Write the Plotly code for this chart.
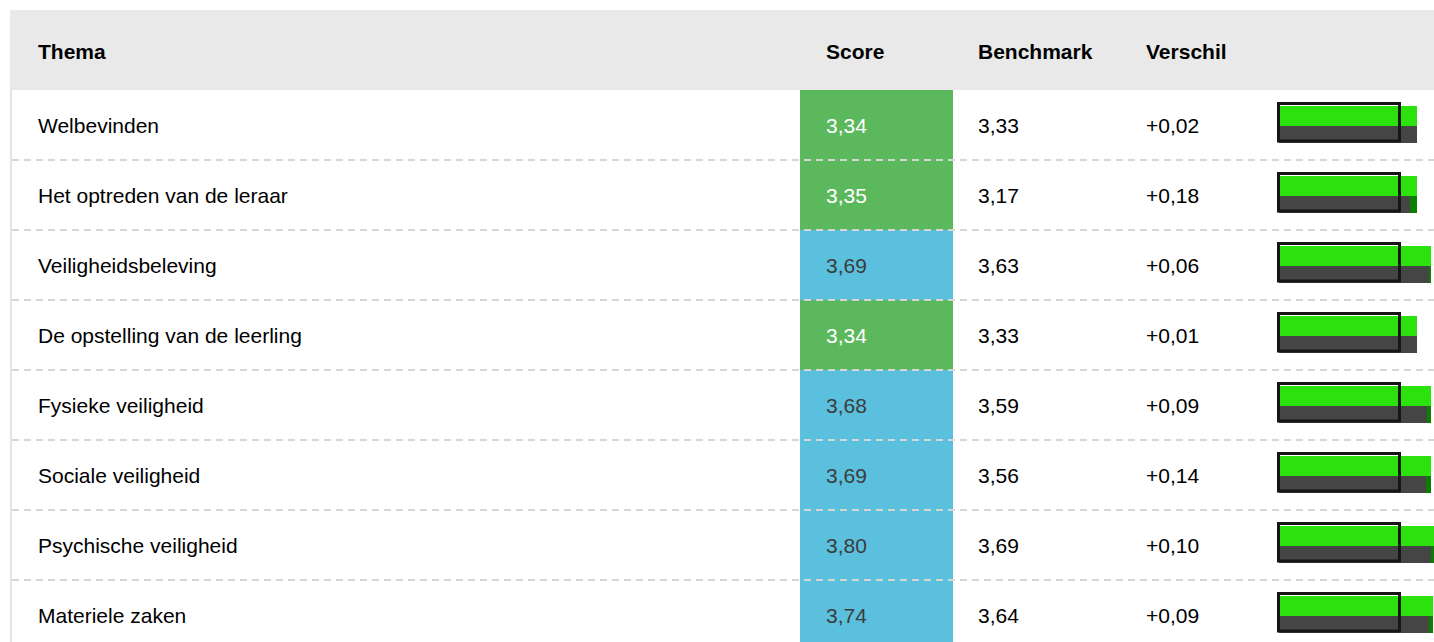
import plotly.graph_objects as go

# ---- data ----
themes = ["Welbevinden", "Het optreden van de leraar", "Veiligheidsbeleving",
          "De opstelling van de leerling", "Fysieke veiligheid", "Sociale veiligheid",
          "Psychische veiligheid", "Materiele zaken"]
scores = [3.34, 3.35, 3.69, 3.34, 3.68, 3.69, 3.80, 3.74]
benchmarks = [3.33, 3.17, 3.63, 3.33, 3.59, 3.56, 3.69, 3.64]
verschil = [0.02, 0.18, 0.06, 0.01, 0.09, 0.14, 0.10, 0.09]
headers = ["Thema", "Score", "Benchmark", "Verschil"]

# ---- layout constants (pixels) ----
W, H = 1434, 642
LEFT, TOP = 10, 10
HEADER_H = 80
ROW_H = 70
COL_X = [38, 826, 978, 1146]
SCORE_CELL = (800, 953)
SPARK_X0 = 1279
PX_PER_UNIT = 41.3
FONT = "Liberation Sans, Arial, Helvetica, sans-serif"

GREEN_CELL = "#5cb85c"
BLUE_CELL = "#5bc0de"

n = len(themes)
row_top = [TOP + HEADER_H + ROW_H * i for i in range(n)]
row_mid = [t + ROW_H / 2 for t in row_top]


def fmt(v, sign=False):
    s = f"{v:+.2f}" if sign else f"{v:.2f}"
    return s.replace(".", ",")


cell_colors = [GREEN_CELL if s < 3.5 else BLUE_CELL for s in scores]
cell_text_colors = ["#ffffff" if c == GREEN_CELL else "#3c3c3c" for c in cell_colors]

fig = go.Figure()

# score cells
fig.add_trace(go.Bar(
    orientation="h", y=row_mid, x=[SCORE_CELL[1] - SCORE_CELL[0]] * n,
    base=[SCORE_CELL[0]] * n, width=ROW_H, marker=dict(color=cell_colors, line=dict(width=0)),
    xaxis="x", yaxis="y", hoverinfo="skip", showlegend=False))

# sparkline bars (score: green, benchmark: gray)
fig.add_trace(go.Bar(
    orientation="h", y=[m + 9.5 for m in row_mid], x=scores, width=17,
    marker=dict(color="#0d7f00", line=dict(width=0)),
    xaxis="x2", yaxis="y", hoverinfo="skip", showlegend=False))
fig.add_trace(go.Bar(
    orientation="h", y=[m - 9 for m in row_mid], x=scores, width=20,
    marker=dict(color="#2be20c", line=dict(width=0)),
    xaxis="x2", yaxis="y", hoverinfo="skip", showlegend=False))
fig.add_trace(go.Bar(
    orientation="h", y=[m + 9.5 for m in row_mid], x=benchmarks, width=17,
    marker=dict(color="#454545", line=dict(width=0)),
    xaxis="x2", yaxis="y", hoverinfo="skip", showlegend=False))

shapes = []
# header background
shapes.append(dict(type="rect", xref="x", yref="y", x0=LEFT, x1=W, y0=TOP, y1=TOP + HEADER_H,
                   fillcolor="#e9e9e9", line=dict(width=0), layer="below"))
# left border
shapes.append(dict(type="line", xref="x", yref="y", x0=LEFT + 1, x1=LEFT + 1,
                   y0=TOP + HEADER_H, y1=H, line=dict(color="#e4e4e4", width=2), layer="above"))
# dashed row separators
for t in row_top[1:]:
    shapes.append(dict(type="line", xref="x", yref="y", x0=LEFT + 2, x1=W, y0=t, y1=t,
                       line=dict(color="#d6d6d6", width=2, dash="7px,5px"), layer="above"))
# sparkline frames
for m in row_mid:
    shapes.append(dict(type="line", xref="x", yref="y", x0=SPARK_X0 + 1, x1=SPARK_X0 + 120,
                       y0=m - 20.5, y1=m - 20.5, line=dict(color="#ffffff", width=1), layer="above"))
    shapes.append(dict(type="rect", xref="x", yref="y", x0=SPARK_X0 - 0.5, x1=SPARK_X0 + 120.5,
                       y0=m - 21.5, y1=m + 16, line=dict(color="#161616", width=3), layer="above"))

annotations = []
for hx, h in zip(COL_X, headers):
    annotations.append(dict(x=hx - 2, y=TOP + HEADER_H / 2 + 1, xref="x", yref="y", text=f"<b>{h}</b>",
                            showarrow=False, xanchor="left", yanchor="middle",
                            font=dict(family=FONT, size=21, color="#000000")))
for i in range(n):
    vals = [themes[i], fmt(scores[i]), fmt(benchmarks[i]), fmt(verschil[i], sign=True)]
    colors = ["#000000", cell_text_colors[i], "#000000", "#000000"]
    for hx, v, c in zip(COL_X, vals, colors):
        annotations.append(dict(x=hx - 2, y=row_mid[i], xref="x", yref="y", text=v,
                                showarrow=False, xanchor="left", yanchor="middle",
                                font=dict(family=FONT, size=21, color=c)))

hidden = dict(visible=False, showgrid=False, zeroline=False, showticklabels=False)
fig.update_layout(
    width=W, height=H, margin=dict(l=0, r=0, t=0, b=0),
    paper_bgcolor="#ffffff", plot_bgcolor="rgba(0,0,0,0)",
    barmode="overlay", bargap=0, showlegend=False,
    xaxis=dict(range=[0, W], domain=[0, 1], fixedrange=True, **hidden),
    xaxis2=dict(range=[0, (W - SPARK_X0) / PX_PER_UNIT], domain=[SPARK_X0 / W, 1], anchor="y",
                fixedrange=True, **hidden),
    yaxis=dict(range=[H, 0], domain=[0, 1], fixedrange=True, **hidden),
    shapes=shapes, annotations=annotations,
)

fig.write_html(
    "out.html",
    config={"displayModeBar": False},
    post_script="document.body.style.margin='0';document.body.style.overflow='hidden';",
)
